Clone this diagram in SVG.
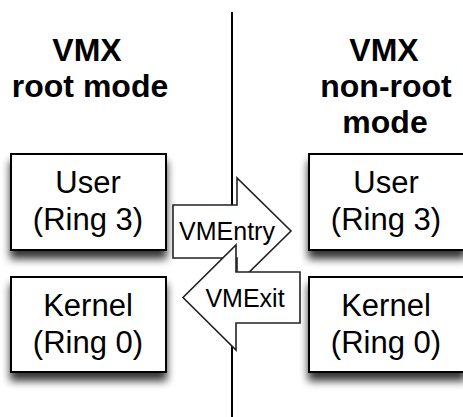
<svg xmlns="http://www.w3.org/2000/svg" width="463" height="417" viewBox="0 0 463 417">
  <defs>
    <filter id="shadow" x="-20%" y="-20%" width="140%" height="160%">
      <feGaussianBlur in="SourceAlpha" stdDeviation="4"/>
      <feOffset dx="0" dy="8" result="b"/>
      <feComponentTransfer><feFuncA type="linear" slope="0.8"/></feComponentTransfer>
      <feMerge><feMergeNode/><feMergeNode in="SourceGraphic"/></feMerge>
    </filter>
  </defs>
  <style>
    .box { fill: #fff; stroke: #000; stroke-width: 2; }
    .arrow { fill: #fff; stroke: #222; stroke-width: 1.6; stroke-linejoin: miter; }
    .t { font-family: "Liberation Sans", Arial, sans-serif; fill: #000; text-anchor: middle; }
    .hdr { font-size: 32px; font-weight: bold; }
    .body { font-size: 31px; }
    .lbl { font-size: 25px; }
  </style>
  <rect width="463" height="417" fill="#fff"/>

  <g id="divider">
    <line x1="232" y1="12" x2="232" y2="417" stroke="#000" stroke-width="2"/>
  </g>

  <g id="header-root">
    <text class="t hdr" x="87" y="61">VMX</text>
    <text class="t hdr" x="90" y="97">root mode</text>
  </g>
  <g id="header-nonroot">
    <text class="t hdr" x="384" y="61">VMX</text>
    <text class="t hdr" x="386" y="97">non-root</text>
    <text class="t hdr" x="385" y="133">mode</text>
  </g>

  <g id="root-user">
    <rect class="box" x="11" y="154" width="155" height="96" filter="url(#shadow)"/>
    <text class="t body" x="88" y="193">User</text>
    <text class="t body" x="88" y="230">(Ring 3)</text>
  </g>
  <g id="root-kernel">
    <rect class="box" x="11" y="277" width="155" height="95" filter="url(#shadow)"/>
    <text class="t body" x="88" y="316">Kernel</text>
    <text class="t body" x="88" y="353">(Ring 0)</text>
  </g>
  <g id="nonroot-user">
    <rect class="box" x="309" y="154" width="156" height="96" filter="url(#shadow)"/>
    <text class="t body" x="386" y="193">User</text>
    <text class="t body" x="386" y="230">(Ring 3)</text>
  </g>
  <g id="nonroot-kernel">
    <rect class="box" x="309" y="277" width="156" height="95" filter="url(#shadow)"/>
    <text class="t body" x="386" y="316">Kernel</text>
    <text class="t body" x="386" y="353">(Ring 0)</text>
  </g>

  <g id="connectors">
    <g id="vmentry">
      <path class="arrow" d="M173,205 H237 V178 L291,231 L237,284 V258 H173 Z"/>
      <text class="t lbl" x="227" y="240">VMEntry</text>
    </g>
    <g id="vmexit">
      <path class="arrow" d="M300,272 H236 V245 L183,297.5 L236,350 V323 H300 Z"/>
      <text class="t lbl" x="245" y="307">VMExit</text>
    </g>
  </g>
</svg>
